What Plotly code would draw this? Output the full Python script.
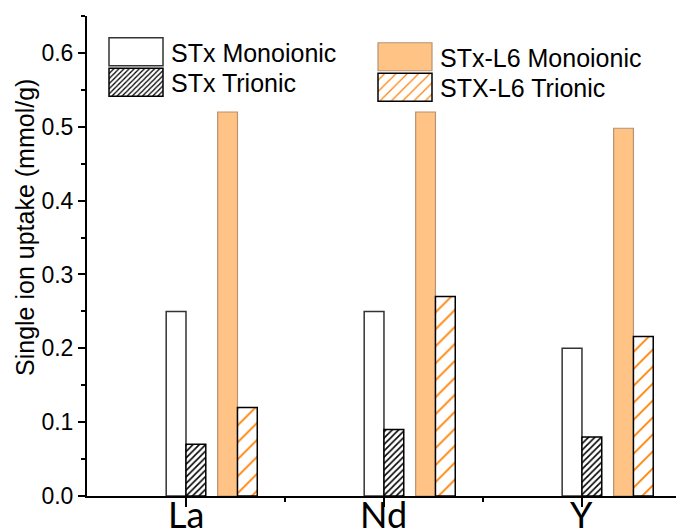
import plotly.graph_objects as go

categories = ["La", "Nd", "Y"]
cat_pos = [0, 1, 2]
stx_mono = [0.25, 0.25, 0.20]
stx_tri = [0.07, 0.09, 0.08]
l6_mono = [0.52, 0.52, 0.498]
l6_tri = [0.12, 0.27, 0.216]

BW = 0.1
fig = go.Figure()
fig.add_trace(go.Bar(
    x=cat_pos, y=stx_mono, name="STx Monoionic", width=BW, offset=-0.1,
    marker=dict(color="white", line=dict(color="#333333", width=1.5)),
    legend="legend", showlegend=True))
fig.add_trace(go.Bar(
    x=cat_pos, y=stx_tri, name="STx Trionic", width=BW, offset=0.0,
    marker=dict(color="white", line=dict(color="black", width=1.5),
                pattern=dict(shape="/", fgcolor="black", bgcolor="white", fgopacity=1,
                             size=4.5, solidity=0.35)),
    legend="legend2", showlegend=True))
fig.add_trace(go.Bar(
    x=cat_pos, y=l6_mono, name="STx-L6 Monoionic", width=BW, offset=0.16,
    marker=dict(color="#FFC385", line=dict(color="#B89272", width=1.2)),
    legend="legend3", showlegend=True))
fig.add_trace(go.Bar(
    x=cat_pos, y=l6_tri, name="STX-L6 Trionic", width=BW, offset=0.26,
    marker=dict(color="white", line=dict(color="black", width=1.5),
                pattern=dict(shape="/", fgcolor="#FF7F00", bgcolor="white", fgopacity=1,
                             size=12, solidity=0.15)),
    legend="legend4", showlegend=True))

FONT = "Liberation Sans, Arial, sans-serif"
LX_L = (101 - 87) / 589
LX_R = (370 - 87) / 589

def leg(x, ycenter_px):
    return dict(x=x, y=(496 - ycenter_px) / 480, xanchor="left", yanchor="middle",
                font=dict(size=25), bgcolor="rgba(0,0,0,0)", itemwidth=60,
                borderwidth=0, visible=True)

XR = [-0.5, 2.475]
annotations = [dict(text="Single ion uptake (mmol/g)", xref="paper", yref="paper",
                    x=(25 - 87) / 589, y=(496 - 228) / 480, xanchor="center", yanchor="middle",
                    textangle=-90, showarrow=False, font=dict(size=25))]
for cx, lab in zip(cat_pos, categories):
    annotations.append(dict(text=lab, x=cx, xref="x", y=(496 - 514) / 480, yref="paper",
                            xanchor="center", yanchor="middle", showarrow=False,
                            font=dict(family="Lato, Carlito, sans-serif", size=36)))

fig.update_layout(
    width=676, height=532,
    margin=dict(l=87, r=0, t=16, b=36, autoexpand=False),
    paper_bgcolor="white", plot_bgcolor="white",
    barmode="overlay", showlegend=True,
    font=dict(family=FONT, size=23, color="black"),
    legend=leg(LX_L, 52),
    legend2=leg(LX_L, 82.5),
    legend3=leg(LX_R, 57),
    legend4=leg(LX_R, 87.5),
    xaxis=dict(range=XR, tickvals=cat_pos, showticklabels=False,
               ticks="outside", ticklen=9, tickwidth=1.5, tickcolor="black",
               showline=True, linecolor="black", linewidth=2, automargin=False,
               minor=dict(tickvals=[0.5, 1.5], ticks="outside", ticklen=4, tickcolor="black", tickwidth=1.5),
               showgrid=False, zeroline=False),
    xaxis2=dict(overlaying="x", side="top", range=XR, tickvals=cat_pos,
                ticks="inside", ticklen=8, tickwidth=1.5, tickcolor="black", automargin=False,
                showline=True, linecolor="black", linewidth=2, showticklabels=False,
                minor=dict(tickvals=[0.5, 1.5], ticks="inside", ticklen=8, tickcolor="black", tickwidth=1.5),
                showgrid=False, zeroline=False, anchor="y"),
    yaxis=dict(range=[0, 0.65], dtick=0.1, tick0=0, tickformat=".1f",
               ticks="outside", ticklen=7, tickwidth=1.5, tickcolor="black", automargin=False,
               showline=True, linecolor="black", linewidth=2,
               minor=dict(dtick=0.05, ticks="outside", ticklen=4, tickcolor="black", tickwidth=1.5),
               showgrid=False, zeroline=False),
    yaxis2=dict(overlaying="y", side="right", range=[0, 0.65], dtick=0.1, tick0=0,
                ticks="inside", ticklen=6, tickwidth=1.5, tickcolor="black", automargin=False,
                showline=True, linecolor="black", linewidth=2, showticklabels=False,
                showgrid=False, zeroline=False, anchor="x"),
    annotations=annotations,
)

post = """
var gd = document.getElementById('{plot_id}');
function fixLegend(){
  try {
    gd.querySelectorAll('g.traces').forEach(function(tr){
      var pts = tr.querySelectorAll('g.legendpoints path');
      if(!pts.length) return;
      var txt = tr.querySelector('text.legendtext');
      var tx = txt ? (parseFloat(txt.getAttribute('x')) || 70) : 70;
      var m1 = null;
      try { m1 = tr.getCTM(); } catch(e) { m1 = null; }
      pts.forEach(function(path){
        var m2 = null;
        try { m2 = path.getCTM(); } catch(e) { m2 = null; }
        var dx = (m1 && m2) ? (m2.e - m1.e) : 35;
        var dy = (m1 && m2) ? (m2.f - m1.f) : 0;
        var x2 = tx - 8 - dx, x1 = x2 - 54;
        var y1 = -14 - dy, y2 = 14 - dy;
        path.setAttribute('d', 'M'+x2+','+y2+'H'+x1+'V'+y1+'H'+x2+'Z');
      });
    });
  } catch(err) {}
}
fixLegend();
setTimeout(fixLegend, 30);
setTimeout(fixLegend, 300);
try { gd.on('plotly_afterplot', fixLegend); } catch(e) {}
"""
fig.write_html("out.html", post_script=post)
